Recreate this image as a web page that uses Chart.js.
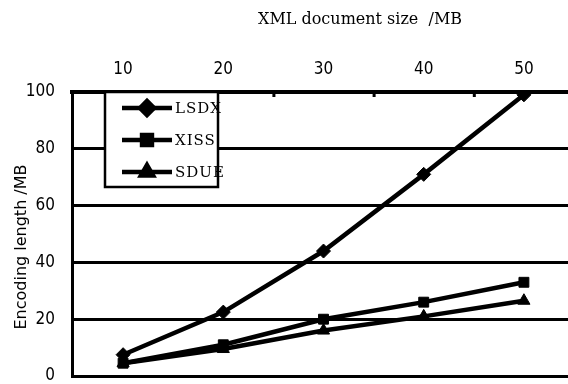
<!DOCTYPE html>
<html lang="en">
<head>
    <title>Encoding length</title>
    <script src="https://cdn.jsdelivr.net/npm/chart.js"></script>
    <style>
        body {
            margin: 0;
            background: #ffffff;
        }
        .wrap {
            position: relative;
            width: 568px;
            height: 384px;
            overflow: hidden;
        }
        .x-title {
            position: absolute;
            left: 258px;
            top: 9px;
            font-family: 'DejaVu Serif', serif;
            font-size: 16px;
            color: #000;
            white-space: pre;
        }
        .y-title {
            position: absolute;
            left: -79px;
            top: 237px;
            width: 200px;
            height: 20px;
            line-height: 20px;
            text-align: center;
            transform: rotate(-90deg);
            font-family: 'DejaVu Sans', sans-serif;
            font-size: 16px;
            color: #000;
        }
    </style>
</head>
<body>
    <div class="wrap">
        <canvas id="lineChart" width="577" height="384"></canvas>
        <div class="x-title">XML document size  /MB</div>
        <div class="y-title">Encoding length /MB</div>
    </div>

    <script>
        // datos
        const sizes = [10, 20, 30, 40, 50];
        const lsdx = [7.5, 22.5, 44, 71, 99];
        const xiss = [4.5, 11, 20, 26, 33];
        const sdue = [4.5, 9.5, 16, 21, 26.5];
        const yTicks = [0, 20, 40, 60, 80, 100];
        const minorX = [15, 25, 35, 45];
        const seriesNames = ['LSDX', 'XISS', 'SDUE'];
        const markers = ['rectRot', 'rect', 'triangle'];

        const toPoints = vals => vals.map((v, i) => ({ x: sizes[i], y: v }));
        const tickFont = { size: 17, family: '"Liberation Sans Narrow", "DejaVu Sans Condensed", "Liberation Sans", sans-serif' };

        // leyenda dibujada dentro del area del grafico + marcas del eje superior
        const boxLegend = {
            id: 'boxLegend',
            afterDraw(chart) {
                const ctx = chart.ctx;
                const a = chart.chartArea;
                const xs = chart.scales.x;
                ctx.save();
                ctx.fillStyle = '#000';
                minorX.forEach(v => {
                    const px = xs.getPixelForValue(v);
                    ctx.fillRect(px - 1, a.top, 3, 5);
                });
                const left = a.left + 33, top = a.top, w = 113, h = 95;
                ctx.strokeStyle = '#000';
                ctx.lineWidth = 2.5;
                ctx.fillStyle = '#fff';
                ctx.fillRect(left, top, w, h);
                ctx.strokeRect(left, top, w, h);
                chart.data.datasets.forEach((ds, i) => {
                    const y = top + 16 + i * 32;
                    ctx.lineWidth = 4.5;
                    ctx.beginPath();
                    ctx.moveTo(left + 17, y);
                    ctx.lineTo(left + 67, y);
                    ctx.stroke();
                    ctx.fillStyle = '#000';
                    Chart.helpers.drawPoint(ctx, { pointStyle: ds.pointStyle, radius: 7, borderWidth: 1 }, left + 42, y);
                    ctx.font = '15px "DejaVu Serif", serif';
                    ctx.letterSpacing = '1px';
                    ctx.textBaseline = 'middle';
                    ctx.fillText(ds.label, left + 70, y + 1);
                });
                ctx.restore();
            }
        };

        const ctx = document.getElementById('lineChart').getContext('2d');
        const chart = new Chart(ctx, {
            type: 'line',
            data: {
                datasets: [lsdx, xiss, sdue].map((vals, i) => ({
                    label: seriesNames[i],
                    data: toPoints(vals),
                    borderColor: '#000',
                    backgroundColor: '#000',
                    borderWidth: 4.5,
                    pointStyle: markers[i],
                    pointRadius: 7,
                    pointBorderWidth: 1,
                    tension: 0
                }))
            },
            options: {
                responsive: false,
                animation: false,
                layout: { padding: { left: 0, right: 0, top: 0, bottom: 7 } },
                plugins: {
                    legend: { display: false },
                    tooltip: { enabled: false }
                },
                scales: {
                    x: {
                        type: 'linear',
                        position: 'top',
                        min: 4.9,
                        max: 54.5,
                        afterBuildTicks: s => { s.ticks = sizes.map(v => ({ value: v })); },
                        afterFit: s => { s.height = 92; s.paddingLeft = 0; s.paddingRight = 0; },
                        grid: { display: false },
                        border: { color: '#000', width: 4 },
                        ticks: {
                            color: '#000',
                            padding: 4,
                            font: tickFont
                        }
                    },
                    y: {
                        min: 0,
                        max: 100,
                        afterBuildTicks: s => { s.ticks = yTicks.map(v => ({ value: v })); },
                        afterFit: s => { s.width = 72; s.paddingTop = 0; s.paddingBottom = 0; },
                        grid: { color: '#000', lineWidth: 3, drawTicks: false },
                        border: { color: '#000', width: 3 },
                        ticks: {
                            color: '#000',
                            padding: 17,
                            font: tickFont
                        }
                    }
                }
            },
            plugins: [boxLegend]
        });
    </script>
</body>
</html>
